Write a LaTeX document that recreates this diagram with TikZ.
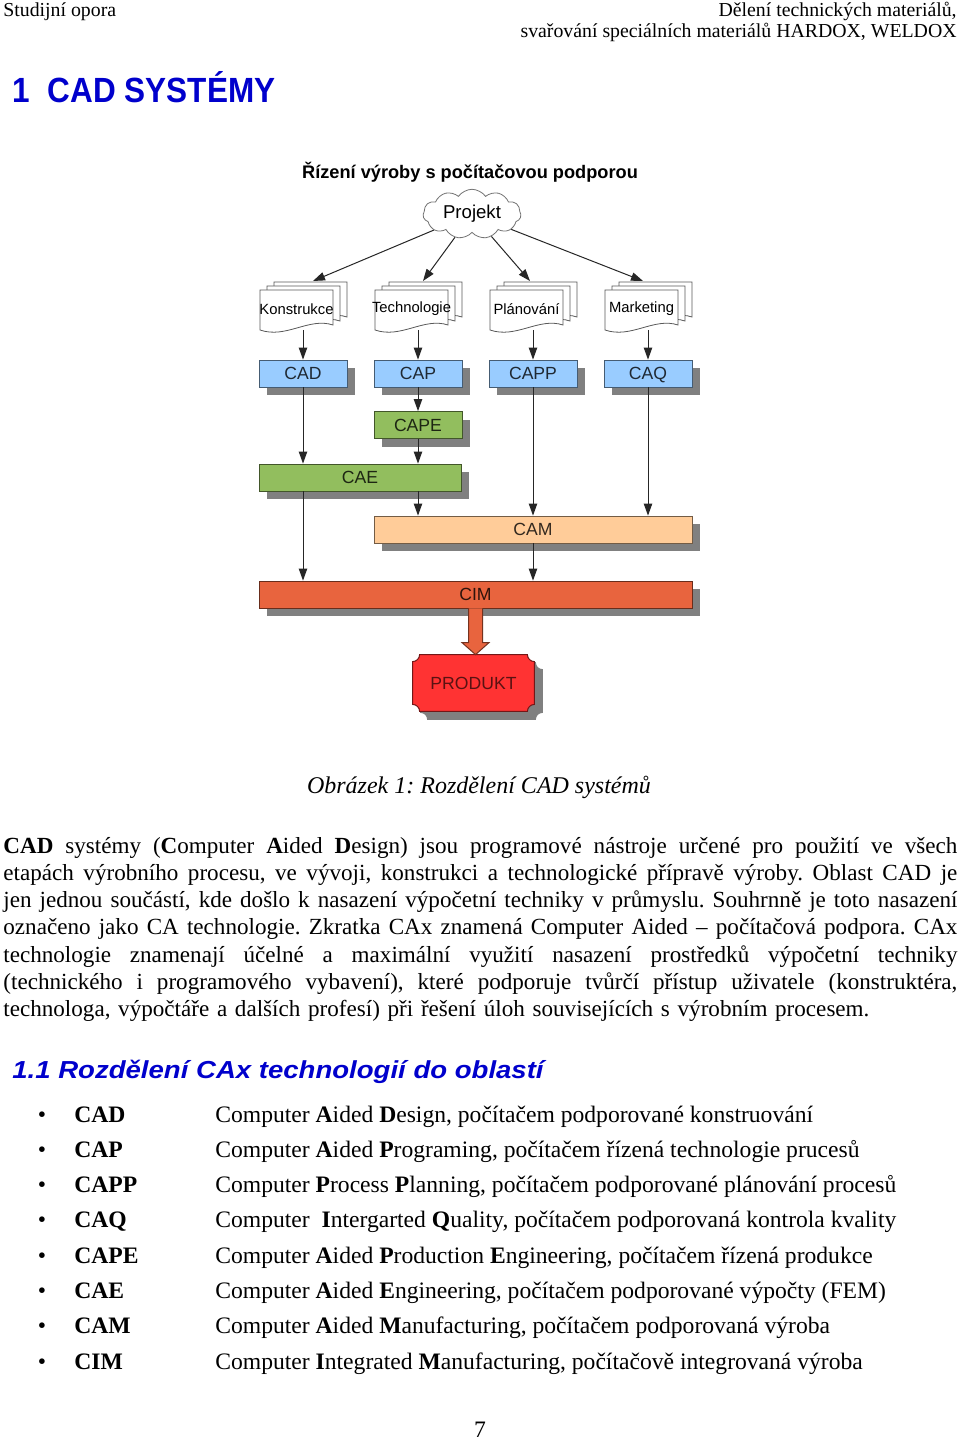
\documentclass[tikz,border=0pt]{standalone}
\usepackage{fontspec}
\setmainfont{Liberation Serif}
\newfontfamily\headfont{Liberation Sans}[FakeStretch=0.9]
\newfontfamily\headwide{Liberation Sans}[FakeStretch=1.12]
\newfontfamily\diafont{Liberation Sans}
\usetikzlibrary{positioning,calc,shapes.symbols,shadows,arrows.meta}

\definecolor{nadpis}{RGB}{0,0,204}
\definecolor{modra}{RGB}{153,204,255}
\definecolor{zelena}{RGB}{146,190,94}
\definecolor{pleti}{RGB}{255,204,153}
\definecolor{cihla}{RGB}{232,100,62}
\definecolor{cervena}{RGB}{255,51,51}

\tikzset{
  pismo/.style={inner sep=0pt},
  stin/.style={drop shadow={shadow xshift=4pt,shadow yshift=-4pt,fill=black!50,opacity=1}},
  cabox/.style={draw=#1!45!black, fill=#1, text=#1!20!black, stin, inner sep=0pt,
    minimum height=13.5pt, text height=6.3pt, text depth=0pt,
    font=\diafont\fontsize{8.8}{10}\selectfont},
  sipka/.style={-{Triangle[width=4.2pt,length=6pt]}, draw=black!85, line width=0.5pt},
  list/.style={draw=black!65, fill=white, line width=0.4pt},
  dokument/.style={pismo, font=\diafont\fontsize{7.4}{8}\selectfont},
}

% stitek PRODUKT s vykrojenymi rohy
\newcommand\stitek[2]{%
  \draw[fill=#1, draw=#2, line width=0.5pt]
    let \p1=(produkt.north west), \p2=(produkt.south east) in
    (\x1+3.5pt,\y1) -- (\x2-3.5pt,\y1)
    .. controls (\x2-3.5pt,\y1-1.9pt) and (\x2-1.9pt,\y1-3.5pt) .. (\x2,\y1-3.5pt)
    -- (\x2,\y2+3.5pt)
    .. controls (\x2-1.9pt,\y2+3.5pt) and (\x2-3.5pt,\y2+1.9pt) .. (\x2-3.5pt,\y2)
    -- (\x1+3.5pt,\y2)
    .. controls (\x1+3.5pt,\y2+1.9pt) and (\x1+1.9pt,\y2+3.5pt) .. (\x1,\y2+3.5pt)
    -- (\x1,\y1-3.5pt)
    .. controls (\x1+1.9pt,\y1-3.5pt) and (\x1+3.5pt,\y1-1.9pt) .. (\x1+3.5pt,\y1) -- cycle;}
% radek zarovnany na sirku sazby
\newcommand\radek[1]{\hbox to 477pt{\spaceskip=0.25em plus 3em minus 0.05em\relax #1}}

\begin{document}
\begin{tikzpicture}[x=0.5pt, y=-0.5pt, font=\fontsize{11.55}{13.65}\selectfont]
  \fill[white] (0,0) rectangle (960,1440);
  \useasboundingbox (0,0) rectangle (960,1440);

  % zahlavi stranky
  \node[pismo, anchor=base west, font=\fontsize{9.9}{11}\selectfont] (hlava) at (3,17) {Studijní opora};
  \node[pismo, anchor=base east, font=\fontsize{9.9}{11}\selectfont] (hlava1) at (957,17) {Dělení technických materiálů,};
  \node[pismo, anchor=base east, font=\fontsize{9.9}{11}\selectfont] (hlava2) at (957,38) {svařování speciálních materiálů HARDOX, WELDOX};
  \node[pismo, anchor=base west, text=nadpis, font=\headfont\bfseries\fontsize{17.5}{20}\selectfont]
    (kapitola) at (12,102) {1\hspace{9pt}CAD SYSTÉMY};

  % schema
  \node[pismo, anchor=base, font=\diafont\bfseries\fontsize{9.1}{11}\selectfont]
    (titulek) at (470,178) {Řízení výroby s počítačovou podporou};
  \node[cloud, cloud puffs=11, cloud puff arc=110, aspect=2.1, draw=black!55, fill=white, inner sep=0pt,
    minimum width=49pt, minimum height=23pt, font=\diafont\fontsize{9.3}{11}\selectfont]
    (projekt) at (472,214) {Projekt};

  \foreach \jmeno/\sl/\popis/\cil in {konstrukce/303/Konstrukce/313, technologie/418/Technologie/423,
      planovani/533/Plánování/530, marketing/648/Marketing/643} {
    \foreach \dx/\dy in {14/-8, 7/-4, 0/0} {
      \pgfmathsetmacro\xa{\sl-43+\dx}
      \pgfmathsetmacro\ya{290+\dy}
      \draw[list] (\xa,\ya) -- ++(73,0) -- ++(0,35)
        .. controls +(-24,-8) and +(26,9) .. ++(-73,5) -- cycle;
    }
    \node[dokument] (\jmeno) at ({\sl-6.5},309) {\popis};
    \coordinate (\jmeno-cil) at (\cil,281);
    \coordinate (\jmeno-dole) at (\sl,330);
    \draw[sipka] (projekt) -- (\jmeno-cil);
  }

  \node[cabox=modra, minimum width=44pt] (cad) at (303,373.5) {CAD};
  \node[cabox=modra, minimum width=44pt] (cap) at (418,373.5) {CAP};
  \node[cabox=modra, minimum width=44pt] (capp) at (533,373.5) {CAPP};
  \node[cabox=modra, minimum width=44pt] (caq) at (648,373.5) {CAQ};
  \node[cabox=zelena, minimum width=44pt] (cape) at (418,425) {CAPE};
  \node[cabox=zelena, minimum width=101pt] (cae) at (360,477.5) {CAE};
  \node[cabox=pleti, minimum width=159pt] (cam) at (533,529.5) {CAM};
  \node[cabox=cihla, minimum width=216.5pt] (cim) at (475.5,594.5) {CIM};

  \draw[sipka] (konstrukce-dole) -- (cad);
  \draw[sipka] (technologie-dole) -- (cap);
  \draw[sipka] (planovani-dole) -- (capp);
  \draw[sipka] (marketing-dole) -- (caq);
  \draw[sipka] (cad) -- (cad |- cae.north);
  \draw[sipka] (cap) -- (cape);
  \draw[sipka] (cape) -- (cape |- cae.north);
  \draw[sipka] (cae.south -| cad) -- (cad |- cim.north);
  \draw[sipka] (cae.south -| cap) -- (cap |- cam.north);
  \draw[sipka] (capp) -- (cam);
  \draw[sipka] (caq) -- (caq |- cam.north);
  \draw[sipka] (cam) -- (cam |- cim.north);

  % produkt
  \node[pismo, minimum width=60.5pt, minimum height=28pt] (produkt) at (473.5,683) {};
  \begin{scope}[transform canvas={xshift=4pt, yshift=-4pt}]
    \stitek{black!50}{black!50}
  \end{scope}
  \stitek{cervena}{cervena!45!black}
  \node[pismo, text=cervena!35!black, font=\diafont\fontsize{8.8}{10}\selectfont] at (produkt) {PRODUKT};
  \draw[fill=cihla, draw=cihla!50!black, line width=0.5pt]
    let \p1=(cim.south), \p2=(produkt.north) in
    (\x1-3.5pt,\y1) -- (\x1-3.5pt,\y2+6pt) -- (\x1-6.75pt,\y2+6pt) -- (\x1,\y2)
    -- (\x1+6.75pt,\y2+6pt) -- (\x1+3.5pt,\y2+6pt) -- (\x1+3.5pt,\y1);

  \node[pismo, anchor=base, font=\itshape\fontsize{12}{14}\selectfont] (popisek) at (479,793)
    {\frenchspacing Obrázek 1: Rozdělení CAD systémů};

  % text
  \node[pismo, anchor=base west, text width=477pt] (odstavec) at (3,853) {\frenchspacing
    \radek{\textbf{CAD} systémy (\textbf{C}omputer \textbf{A}ided \textbf{D}esign) jsou programové nástroje určené pro použití ve všech}
    \radek{etapách výrobního procesu, ve vývoji, konstrukci a technologické přípravě výroby. Oblast CAD je}
    \radek{jen jednou součástí, kde došlo k nasazení výpočetní techniky v průmyslu. Souhrnně je toto nasazení}
    \radek{označeno jako CA technologie. Zkratka CAx znamená Computer Aided – počítačová podpora. CAx}
    \radek{technologie znamenají účelné a maximální využití nasazení prostředků výpočetní techniky}
    \radek{(technického i programového vybavení), které podporuje tvůrčí přístup uživatele (konstruktéra,}
    \hbox{technologa, výpočtáře a dalších profesí) při řešení úloh souvisejících s výrobním procesem.}};

  \node[pismo, anchor=base west, text=nadpis, font=\headwide\bfseries\itshape\fontsize{12.3}{14}\selectfont]
    (podkapitola) at (12,1078) {1.1 Rozdělení CAx technologií do oblastí};

  \foreach \zkr/\popis [count=\i from 0] in {
      CAD/{Computer \textbf{A}ided \textbf{D}esign, počítačem podporované konstruování},
      CAP/{Computer \textbf{A}ided \textbf{P}rograming, počítačem řízená technologie prucesů},
      CAPP/{Computer \textbf{P}rocess \textbf{P}lanning, počítačem podporované plánování procesů},
      CAQ/{Computer\ \ \textbf{I}ntergarted \textbf{Q}uality, počítačem podporovaná kontrola kvality},
      CAPE/{Computer \textbf{A}ided \textbf{P}roduction \textbf{E}ngineering, počítačem řízená produkce},
      CAE/{Computer \textbf{A}ided \textbf{E}ngineering, počítačem podporované výpočty (FEM)},
      CAM/{Computer \textbf{A}ided \textbf{M}anufacturing, počítačem podporovaná výroba},
      CIM/{Computer \textbf{I}ntegrated \textbf{M}anufacturing, počítačově integrovaná výroba}} {
    \node[pismo, anchor=base, font=\fontsize{11.8}{14}\selectfont] (odrazka\i) at (42,{1122+35.3*\i}) {\textbullet};
    \node[pismo, anchor=base west, font=\bfseries\fontsize{11.8}{14}\selectfont] (zkratka\i) at (74,{1122+35.3*\i}) {\zkr};
    \node[pismo, anchor=base west, font=\fontsize{11.8}{14}\selectfont] (vyznam\i) at (215,{1122+35.3*\i}) {\popis};
  }

  \node[pismo, anchor=base, font=\fontsize{11.8}{14}\selectfont] (strana) at (480,1437) {7};
\end{tikzpicture}
\end{document}
